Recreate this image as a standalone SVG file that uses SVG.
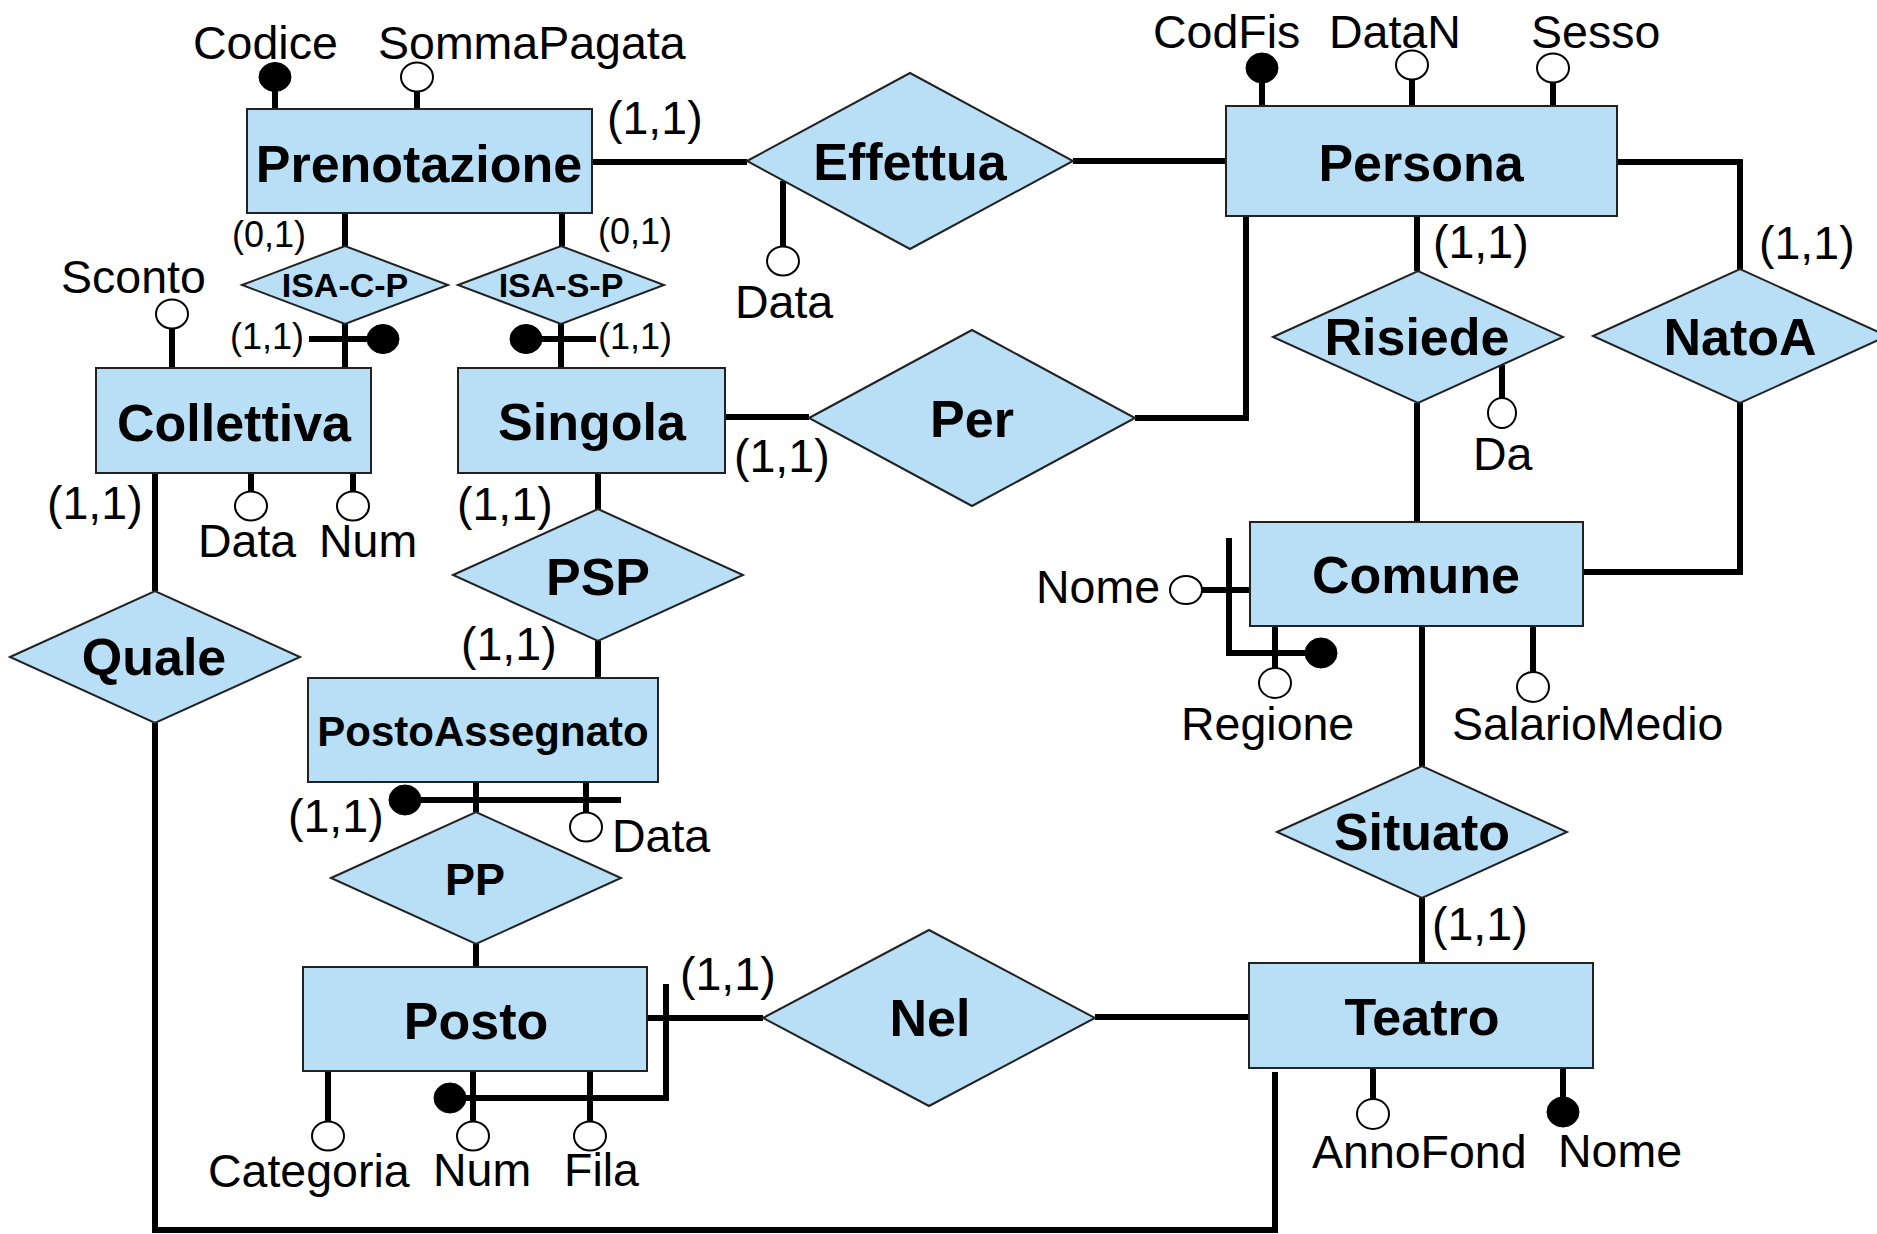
<svg xmlns="http://www.w3.org/2000/svg" width="1877" height="1234" viewBox="0 0 1877 1234">
<style>
  .shape { fill: #B9DFF7; stroke: #222; stroke-width: 2; }
  .ln { fill: none; stroke: #000; stroke-width: 6; }
  .ao { fill: #fff; stroke: #000; stroke-width: 2; }
  .af { fill: #000; stroke: #000; stroke-width: 1; }
  .lbl { font-family: "Liberation Sans", Arial, sans-serif; font-weight: bold; font-size: 52px; fill: #000; text-anchor: middle; }
  .att { font-family: "Liberation Sans", Arial, sans-serif; font-size: 46.5px; fill: #000; }
  .sm { font-family: "Liberation Sans", Arial, sans-serif; font-size: 36px; fill: #000; }
</style>
<rect width="1877" height="1234" fill="#fff"/>

<g id="connectors">
  <path class="ln" d="M591,162 H747"/>
  <path class="ln" d="M1073,161 H1226"/>
  <path class="ln" d="M1417,216 V271"/>
  <path class="ln" d="M1617,162 H1740 V269"/>
  <path class="ln" d="M1135,418 H1246 V216"/>
  <path class="ln" d="M725,417 H809"/>
  <path class="ln" d="M345,213 V246"/>
  <path class="ln" d="M562,213 V246"/>
  <path class="ln" d="M345,324 V368"/>
  <path class="ln" d="M309,339 H383"/>
  <path class="ln" d="M561,324 V368"/>
  <path class="ln" d="M526,339 H596"/>
  <path class="ln" d="M155,473 V591"/>
  <path class="ln" d="M155,723 V1230 H1275 V1072"/>
  <path class="ln" d="M598,473 V509"/>
  <path class="ln" d="M598,641 V678"/>
  <path class="ln" d="M476,782 V812"/>
  <path class="ln" d="M405,800 H621"/>
  <path class="ln" d="M476,944 V967"/>
  <path class="ln" d="M647,1018 H763"/>
  <path class="ln" d="M666,984 V1098 H450"/>
  <path class="ln" d="M1095,1017 H1249"/>
  <path class="ln" d="M1417,403 V522"/>
  <path class="ln" d="M1740,403 V572 H1583"/>
  <path class="ln" d="M1202,590 H1250"/>
  <path class="ln" d="M1229,538 V653 H1321"/>
  <path class="ln" d="M1422,626 V766"/>
  <path class="ln" d="M1422,898 V963"/>
</g>

<g id="attributes">
  <path class="ln" d="M275,91 V109"/>
  <ellipse class="af" cx="275" cy="77" rx="16" ry="14.5"/>
  <path class="ln" d="M417,91 V109"/>
  <ellipse class="ao" cx="417" cy="77" rx="16" ry="14.5"/>
  <path class="ln" d="M1262,83 V106"/>
  <ellipse class="af" cx="1262" cy="68" rx="16" ry="15"/>
  <path class="ln" d="M1412,79 V106"/>
  <ellipse class="ao" cx="1412" cy="65" rx="16" ry="14.5"/>
  <path class="ln" d="M1553,83 V106"/>
  <ellipse class="ao" cx="1553" cy="68" rx="16" ry="14.5"/>
  <path class="ln" d="M783,181 V246"/>
  <ellipse class="ao" cx="783" cy="261" rx="16" ry="14.5"/>
  <path class="ln" d="M172,328 V368"/>
  <ellipse class="ao" cx="172" cy="314" rx="16" ry="14.5"/>
  <ellipse class="af" cx="383" cy="339" rx="16" ry="14.5"/>
  <ellipse class="af" cx="526" cy="339" rx="16" ry="14.5"/>
  <path class="ln" d="M251,473 V491"/>
  <ellipse class="ao" cx="251" cy="506" rx="16" ry="14.5"/>
  <path class="ln" d="M353,473 V491"/>
  <ellipse class="ao" cx="353" cy="506" rx="16" ry="14.5"/>
  <path class="ln" d="M1502,365 V398"/>
  <ellipse class="ao" cx="1502" cy="413" rx="14" ry="15"/>
  <ellipse class="ao" cx="1186" cy="590" rx="16" ry="14"/>
  <ellipse class="af" cx="1321" cy="653" rx="16" ry="15"/>
  <path class="ln" d="M1275,626 V668"/>
  <ellipse class="ao" cx="1275" cy="683" rx="16" ry="15"/>
  <path class="ln" d="M1533,626 V672"/>
  <ellipse class="ao" cx="1533" cy="687" rx="16" ry="15"/>
  <ellipse class="af" cx="405" cy="800" rx="16" ry="15"/>
  <path class="ln" d="M586,782 V812"/>
  <ellipse class="ao" cx="586" cy="827" rx="16" ry="14.5"/>
  <ellipse class="af" cx="450" cy="1098" rx="16" ry="15"/>
  <path class="ln" d="M328,1071 V1121"/>
  <ellipse class="ao" cx="328" cy="1136" rx="16" ry="14.5"/>
  <path class="ln" d="M473,1071 V1121"/>
  <ellipse class="ao" cx="473" cy="1136" rx="16" ry="14.5"/>
  <path class="ln" d="M590,1071 V1121"/>
  <ellipse class="ao" cx="590" cy="1136" rx="16" ry="14.5"/>
  <path class="ln" d="M1373,1068 V1100"/>
  <ellipse class="ao" cx="1373" cy="1114" rx="16" ry="15"/>
  <path class="ln" d="M1563,1068 V1098"/>
  <ellipse class="af" cx="1563" cy="1112" rx="16" ry="15"/>

  <text class="att" x="193" y="59">Codice</text>
  <text class="att" x="378" y="59">SommaPagata</text>
  <text class="att" x="1153" y="48">CodFis</text>
  <text class="att" x="1329" y="48">DataN</text>
  <text class="att" x="1531" y="48">Sesso</text>
  <text class="att" x="61" y="293">Sconto</text>
  <text class="att" x="735" y="318">Data</text>
  <text class="att" x="1473" y="470">Da</text>
  <text class="att" x="198" y="557">Data</text>
  <text class="att" x="319" y="557">Num</text>
  <text class="att" x="1036" y="603">Nome</text>
  <text class="att" x="1181" y="740">Regione</text>
  <text class="att" x="1452" y="740">SalarioMedio</text>
  <text class="att" x="612" y="852">Data</text>
  <text class="att" x="208" y="1187">Categoria</text>
  <text class="att" x="433" y="1186">Num</text>
  <text class="att" x="564" y="1186">Fila</text>
  <text class="att" x="1312" y="1168">AnnoFond</text>
  <text class="att" x="1558" y="1167">Nome</text>
</g>

<g id="cardinalities">
  <text class="att" x="607" y="134">(1,1)</text>
  <text class="att" x="1433" y="258">(1,1)</text>
  <text class="att" x="1759" y="259">(1,1)</text>
  <text class="att" x="734" y="472">(1,1)</text>
  <text class="att" x="47" y="519">(1,1)</text>
  <text class="att" x="457" y="520">(1,1)</text>
  <text class="att" x="461" y="660">(1,1)</text>
  <text class="att" x="288" y="832">(1,1)</text>
  <text class="att" x="680" y="990">(1,1)</text>
  <text class="att" x="1432" y="940">(1,1)</text>
  <text class="sm" x="232" y="247">(0,1)</text>
  <text class="sm" x="598" y="244">(0,1)</text>
  <text class="sm" x="230" y="349">(1,1)</text>
  <text class="sm" x="598" y="349">(1,1)</text>
</g>

<g id="Prenotazione">
  <rect class="shape" x="247" y="109" width="345" height="104"/>
  <text class="lbl" x="419" y="182">Prenotazione</text>
</g>
<g id="Persona">
  <rect class="shape" x="1226" y="106" width="391" height="110"/>
  <text class="lbl" x="1421" y="181">Persona</text>
</g>
<g id="Collettiva">
  <rect class="shape" x="96" y="368" width="275" height="105"/>
  <text class="lbl" x="234" y="441">Collettiva</text>
</g>
<g id="Singola">
  <rect class="shape" x="458" y="368" width="267" height="105"/>
  <text class="lbl" x="592" y="440">Singola</text>
</g>
<g id="Comune">
  <rect class="shape" x="1250" y="522" width="333" height="104"/>
  <text class="lbl" x="1416" y="593">Comune</text>
</g>
<g id="Teatro">
  <rect class="shape" x="1249" y="963" width="344" height="105"/>
  <text class="lbl" x="1422" y="1035">Teatro</text>
</g>
<g id="PostoAssegnato">
  <rect class="shape" x="308" y="678" width="350" height="104"/>
  <text class="lbl" x="483" y="746" style="font-size:42px">PostoAssegnato</text>
</g>
<g id="Posto">
  <rect class="shape" x="303" y="967" width="344" height="104"/>
  <text class="lbl" x="476" y="1039">Posto</text>
</g>

<g id="Effettua">
  <polygon class="shape" points="747,161 910,73 1073,161 910,249"/>
  <text class="lbl" x="910" y="180">Effettua</text>
</g>
<g id="Per">
  <polygon class="shape" points="809,418 972,330 1135,418 972,506"/>
  <text class="lbl" x="972" y="437">Per</text>
</g>
<g id="Risiede">
  <polygon class="shape" points="1273,337 1418,271 1563,337 1418,403"/>
  <text class="lbl" x="1417" y="355">Risiede</text>
</g>
<g id="NatoA">
  <polygon class="shape" points="1593,336 1740,269 1887,336 1740,403"/>
  <text class="lbl" x="1740" y="355">NatoA</text>
</g>
<g id="ISA-C-P">
  <polygon class="shape" points="242,285 345,246 448,285 345,324"/>
  <text class="lbl" x="345" y="297" style="font-size:34px">ISA-C-P</text>
</g>
<g id="ISA-S-P">
  <polygon class="shape" points="458,285 561,246 664,285 561,324"/>
  <text class="lbl" x="561" y="297" style="font-size:34px">ISA-S-P</text>
</g>
<g id="PSP">
  <polygon class="shape" points="453,575 598,509 743,575 598,641"/>
  <text class="lbl" x="598" y="595">PSP</text>
</g>
<g id="Quale">
  <polygon class="shape" points="10,657 155,591 300,657 155,723"/>
  <text class="lbl" x="154" y="675">Quale</text>
</g>
<g id="PP">
  <polygon class="shape" points="331,878 476,812 621,878 476,944"/>
  <text class="lbl" x="475" y="895" style="font-size:45px">PP</text>
</g>
<g id="Situato">
  <polygon class="shape" points="1277,832 1422,766 1567,832 1422,898"/>
  <text class="lbl" x="1422" y="850">Situato</text>
</g>
<g id="Nel">
  <polygon class="shape" points="763,1018 929,930 1095,1018 929,1106"/>
  <text class="lbl" x="930" y="1036">Nel</text>
</g>
</svg>
